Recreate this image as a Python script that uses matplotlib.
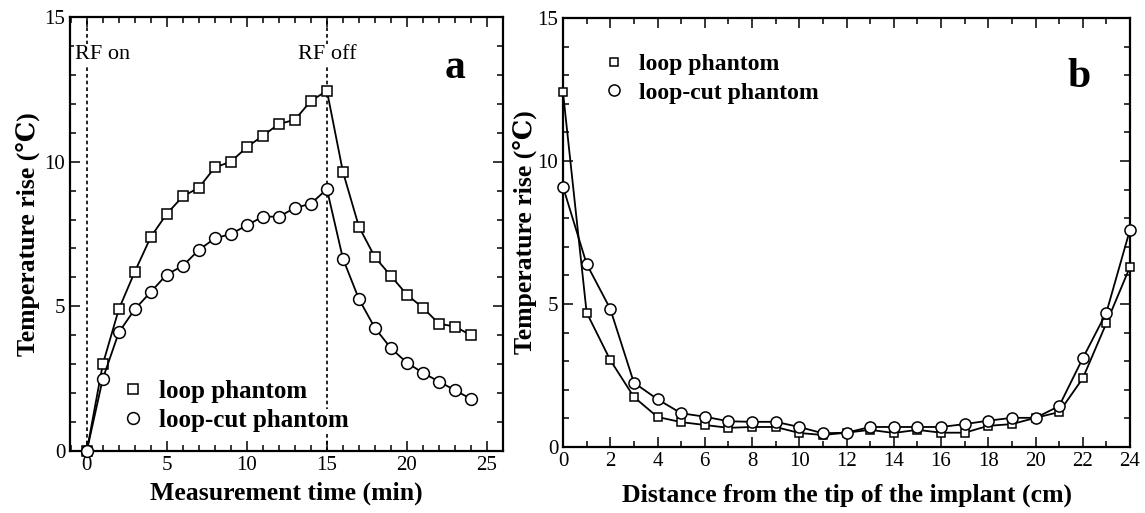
import matplotlib
matplotlib.use("Agg")
import matplotlib.pyplot as plt
from matplotlib.lines import Line2D
from matplotlib.ticker import MultipleLocator

plt.rcParams['font.family'] = ['Liberation Serif', 'DejaVu Serif', 'DejaVu Sans']

# ---- data: panel a ----
time_min = list(range(0, 25))
loop_a = [0.0, 3.0, 4.9, 6.2, 7.4, 8.2, 8.8, 9.1, 9.8, 10.0, 10.5, 10.9, 11.3, 11.45,
          12.1, 12.45, 9.65, 7.75, 6.7, 6.05, 5.4, 4.95, 4.4, 4.3, 4.0]
loopcut_a = [0.0, 2.5, 4.1, 4.9, 5.5, 6.1, 6.4, 6.95, 7.35, 7.5, 7.8, 8.1, 8.1, 8.4,
             8.55, 9.05, 6.65, 5.25, 4.25, 3.55, 3.05, 2.7, 2.4, 2.1, 1.8]

# ---- data: panel b ----
distance_cm = list(range(0, 25))
loop_b = [12.4, 4.7, 3.04, 1.75, 1.05, 0.87, 0.77, 0.67, 0.7, 0.7, 0.49, 0.42, 0.5, 0.6,
          0.49, 0.6, 0.5, 0.5, 0.74, 0.8, 1.02, 1.22, 2.4, 4.33, 6.3]
loopcut_b = [9.1, 6.4, 4.83, 2.25, 1.67, 1.18, 1.06, 0.9, 0.88, 0.88, 0.7, 0.48, 0.5, 0.7,
             0.7, 0.7, 0.7, 0.8, 0.92, 1.02, 1.02, 1.43, 3.1, 4.7, 7.6]

labels = ["loop phantom", "loop-cut phantom"]
rf_times = [0, 15]
rf_texts = ["RF on", "RF off"]

fig = plt.figure(figsize=(11.45, 5.13), dpi=100)
ax1 = fig.add_axes([70/1145, 62/513, 433/1145, 434/513])
ax2 = fig.add_axes([563/1145, 66/513, 567/1145, 429/513])


def style(ax, xmaj, xmin, ymaj, ymin):
    ax.xaxis.set_major_locator(MultipleLocator(xmaj))
    ax.xaxis.set_minor_locator(MultipleLocator(xmin))
    ax.yaxis.set_major_locator(MultipleLocator(ymaj))
    ax.yaxis.set_minor_locator(MultipleLocator(ymin))
    ax.tick_params(which='both', direction='in', top=True, right=True, labelsize=15, width=1.1)
    ax.tick_params(which='major', length=7)
    ax.tick_params(which='minor', length=4)
    for s in ax.spines.values():
        s.set_linewidth(1.6)


# panel a
for xv in rf_times:
    ax1.axvline(xv, color='k', ls=(0, (2.2, 1.8)), lw=1.2, zorder=1)
ax1.plot(time_min, loop_a, color='k', lw=1.3, marker='s', ms=6.5, mfc='white', mec='k',
         mew=1.1, zorder=3, clip_on=False)
ax1.plot(time_min, loopcut_a, color='k', lw=1.3, marker='o', ms=8.5, mfc='white', mec='k',
         mew=1.1, zorder=4, clip_on=False)
ax1.set_xlim(-1.05, 26)
ax1.set_ylim(0, 15)
style(ax1, 5, 1, 5, 1)
ax1.set_xlabel("Measurement time (min)", fontsize=18.5, fontweight='bold', labelpad=5)
ax1.set_ylabel("Temperature rise (℃)", fontsize=18.5, fontweight='bold', labelpad=3)
ax1.text(-0.75, 13.7, rf_texts[0], fontsize=16, ha='left', va='center',
         bbox=dict(fc='white', ec='none', pad=0.5), zorder=5)
ax1.text(rf_times[1], 13.7, rf_texts[1], fontsize=16, ha='center', va='center',
         bbox=dict(fc='white', ec='none', pad=0.5), zorder=5)
ax1.text(0.89, 0.859, "a", transform=ax1.transAxes, fontsize=30, fontweight='bold',
         ha='center', va='baseline')

h1 = [Line2D([], [], ls='none', marker='s', ms=6.5, mfc='white', mec='k', mew=1.1),
      Line2D([], [], ls='none', marker='o', ms=8.5, mfc='white', mec='k', mew=1.1)]
leg1 = ax1.legend(h1, labels, loc='upper left', bbox_to_anchor=(0.087, 0.193),
                  frameon=False, borderpad=0, handlelength=1.0, handletextpad=0.55,
                  labelspacing=0.25, prop=dict(size=18, weight='bold'))
leg1.set_zorder(6)
for t in leg1.get_texts():
    t.set_bbox(dict(fc='white', ec='none', pad=0))

# panel b
ax2.plot(distance_cm, loop_b, color='k', lw=1.3, marker='s', ms=5.8, mfc='white', mec='k',
         mew=1.1, zorder=3, clip_on=False)
ax2.plot(distance_cm, loopcut_b, color='k', lw=1.3, marker='o', ms=8.0, mfc='white', mec='k',
         mew=1.1, zorder=4, clip_on=False)
ax2.set_xlim(0, 24)
ax2.set_ylim(0, 15)
style(ax2, 2, 1, 5, 1)
ax2.set_xlabel("Distance from the tip of the implant (cm)", fontsize=18.5, fontweight='bold', labelpad=9)
ax2.set_ylabel("Temperature rise (℃)", fontsize=18.5, fontweight='bold', labelpad=0)
ax2.text(0.91, 0.839, "b", transform=ax2.transAxes, fontsize=30, fontweight='bold',
         ha='center', va='baseline')
h2 = [Line2D([], [], ls='none', marker='s', ms=5.8, mfc='white', mec='k', mew=1.1),
      Line2D([], [], ls='none', marker='o', ms=8.0, mfc='white', mec='k', mew=1.1)]
leg2 = ax2.legend(h2, labels, loc='upper left', bbox_to_anchor=(0.048, 0.945),
                  frameon=False, borderpad=0, handlelength=1.0, handletextpad=0.55,
                  labelspacing=0.3, prop=dict(size=17, weight='bold'))

fig.savefig("out.png", dpi=100)
